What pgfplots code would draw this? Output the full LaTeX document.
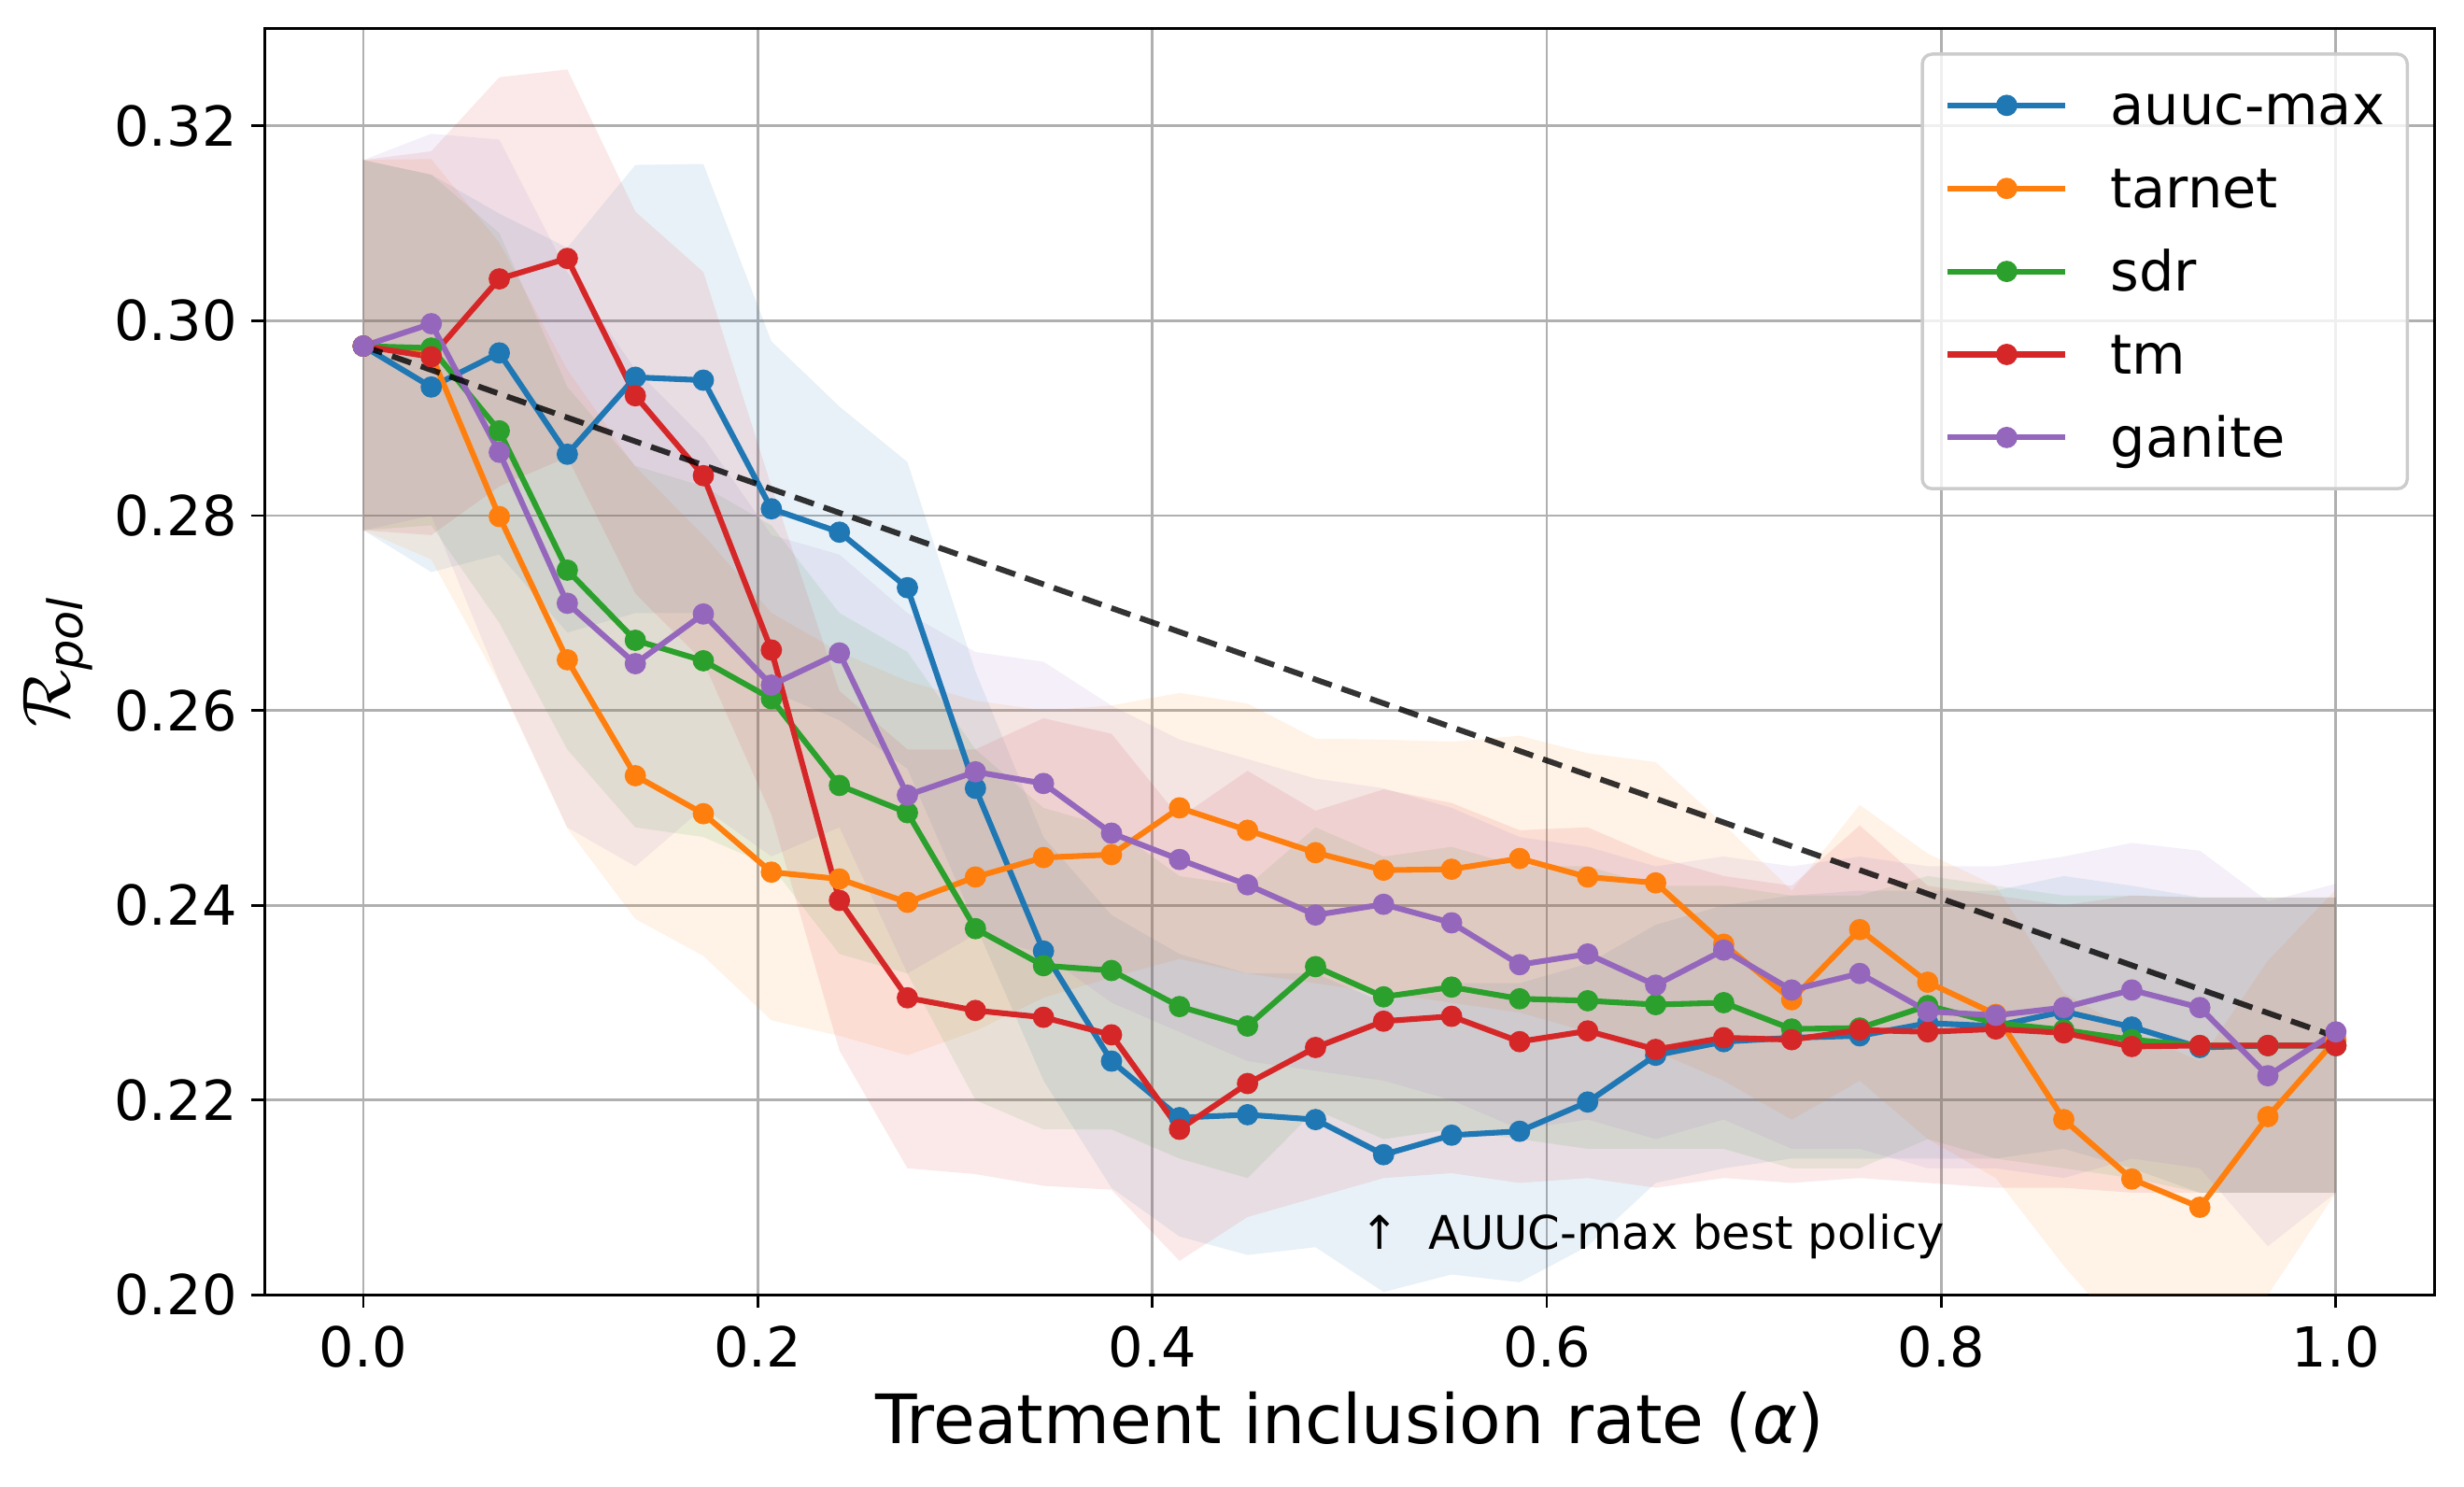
\documentclass[border=0pt]{standalone}
\usepackage{fontspec}
\setmainfont{DejaVu Sans}
\usepackage{amsmath}
\usepackage{pgfplots}
\usepackage{pgfplotstable}
\pgfplotsset{compat=1.18}
\usepgfplotslibrary{fillbetween}

\definecolor{cblue}{HTML}{1F77B4}
\definecolor{corange}{HTML}{FF7F0E}
\definecolor{cgreen}{HTML}{2CA02C}
\definecolor{cred}{HTML}{D62728}
\definecolor{cpurple}{HTML}{9467BD}
\definecolor{cgrid}{HTML}{B0B0B0}
\definecolor{clegend}{HTML}{CCCCCC}

\pgfplotstableread{
x m lo hi
0.000000 0.2974 0.2785 0.3165
0.034483 0.2932 0.2742 0.3150
0.068966 0.2967 0.2760 0.3110
0.103448 0.2863 0.2680 0.3075
0.137931 0.2942 0.2700 0.3160
0.172414 0.2939 0.2700 0.3161
0.206897 0.2807 0.2620 0.2979
0.241379 0.2783 0.2590 0.2912
0.275862 0.2726 0.2540 0.2855
0.310345 0.2520 0.2380 0.2640
0.344828 0.2353 0.2220 0.2470
0.379310 0.2240 0.2110 0.2390
0.413793 0.2182 0.2060 0.2350
0.448276 0.2185 0.2041 0.2330
0.482759 0.2180 0.2049 0.2330
0.517241 0.2144 0.2003 0.2300
0.551724 0.2164 0.2021 0.2320
0.586207 0.2168 0.2013 0.2320
0.620690 0.2198 0.2050 0.2340
0.655172 0.2246 0.2115 0.2380
0.689655 0.2260 0.2130 0.2400
0.724138 0.2264 0.2140 0.2410
0.758621 0.2266 0.2140 0.2415
0.793103 0.2279 0.2140 0.2415
0.827586 0.2276 0.2140 0.2415
0.862069 0.2291 0.2150 0.2430
0.896552 0.2275 0.2130 0.2420
0.931034 0.2254 0.2105 0.2408
0.965517 0.2256 0.2105 0.2408
1.000000 0.2256 0.2105 0.2408
}\tblauuc

\pgfplotstableread{
x m lo hi
0.000000 0.2974 0.2785 0.3165
0.034483 0.2965 0.2755 0.3166
0.068966 0.2799 0.2628 0.3080
0.103448 0.2652 0.2479 0.2950
0.137931 0.2533 0.2386 0.2850
0.172414 0.2494 0.2348 0.2780
0.206897 0.2434 0.2282 0.2700
0.241379 0.2427 0.2266 0.2660
0.275862 0.2403 0.2246 0.2630
0.310345 0.2429 0.2271 0.2610
0.344828 0.2449 0.2305 0.2600
0.379310 0.2452 0.2326 0.2605
0.413793 0.2500 0.2345 0.2618
0.448276 0.2477 0.2330 0.2607
0.482759 0.2454 0.2320 0.2571
0.517241 0.2436 0.2310 0.2570
0.551724 0.2437 0.2300 0.2568
0.586207 0.2448 0.2290 0.2574
0.620690 0.2429 0.2270 0.2556
0.655172 0.2423 0.2250 0.2547
0.689655 0.2360 0.2220 0.2483
0.724138 0.2303 0.2180 0.2415
0.758621 0.2375 0.2220 0.2503
0.793103 0.2321 0.2160 0.2453
0.827586 0.2288 0.2120 0.2420
0.862069 0.2180 0.2030 0.2310
0.896552 0.2119 0.1950 0.2270
0.931034 0.2090 0.1930 0.2240
0.965517 0.2183 0.2000 0.2343
1.000000 0.2262 0.2105 0.2416
}\tbltarnet

\pgfplotstableread{
x m lo hi
0.000000 0.2974 0.2785 0.3165
0.034483 0.2972 0.2790 0.3150
0.068966 0.2887 0.2690 0.3090
0.103448 0.2744 0.2560 0.2932
0.137931 0.2672 0.2480 0.2851
0.172414 0.2651 0.2470 0.2830
0.206897 0.2612 0.2440 0.2790
0.241379 0.2523 0.2350 0.2700
0.275862 0.2495 0.2330 0.2660
0.310345 0.2376 0.2200 0.2560
0.344828 0.2338 0.2170 0.2500
0.379310 0.2333 0.2170 0.2480
0.413793 0.2296 0.2140 0.2430
0.448276 0.2276 0.2120 0.2420
0.482759 0.2337 0.2190 0.2480
0.517241 0.2306 0.2160 0.2450
0.551724 0.2316 0.2170 0.2460
0.586207 0.2304 0.2160 0.2440
0.620690 0.2302 0.2150 0.2440
0.655172 0.2298 0.2150 0.2420
0.689655 0.2300 0.2150 0.2420
0.724138 0.2273 0.2130 0.2410
0.758621 0.2274 0.2130 0.2410
0.793103 0.2297 0.2160 0.2430
0.827586 0.2279 0.2140 0.2420
0.862069 0.2272 0.2130 0.2410
0.896552 0.2262 0.2120 0.2410
0.931034 0.2256 0.2105 0.2408
0.965517 0.2256 0.2105 0.2408
1.000000 0.2256 0.2105 0.2408
}\tblsdr

\pgfplotstableread{
x m lo hi
0.000000 0.2974 0.2785 0.3165
0.034483 0.2963 0.2780 0.3174
0.068966 0.3043 0.2830 0.3250
0.103448 0.3064 0.2860 0.3258
0.137931 0.2923 0.2720 0.3112
0.172414 0.2841 0.2650 0.3050
0.206897 0.2662 0.2493 0.2830
0.241379 0.2405 0.2251 0.2620
0.275862 0.2305 0.2130 0.2560
0.310345 0.2292 0.2124 0.2560
0.344828 0.2285 0.2112 0.2592
0.379310 0.2267 0.2108 0.2576
0.413793 0.2170 0.2035 0.2490
0.448276 0.2217 0.2080 0.2538
0.482759 0.2254 0.2100 0.2497
0.517241 0.2281 0.2120 0.2519
0.551724 0.2286 0.2125 0.2505
0.586207 0.2260 0.2115 0.2477
0.620690 0.2271 0.2120 0.2480
0.655172 0.2252 0.2110 0.2450
0.689655 0.2264 0.2120 0.2430
0.724138 0.2262 0.2115 0.2420
0.758621 0.2272 0.2120 0.2482
0.793103 0.2270 0.2115 0.2420
0.827586 0.2273 0.2110 0.2410
0.862069 0.2269 0.2110 0.2400
0.896552 0.2255 0.2105 0.2410
0.931034 0.2256 0.2105 0.2408
0.965517 0.2256 0.2105 0.2408
1.000000 0.2256 0.2105 0.2408
}\tbltm

\pgfplotstableread{
x m lo hi
0.000000 0.2974 0.2785 0.3165
0.034483 0.2997 0.2800 0.3192
0.068966 0.2865 0.2630 0.3186
0.103448 0.2710 0.2480 0.3050
0.137931 0.2648 0.2440 0.2950
0.172414 0.2699 0.2500 0.2880
0.206897 0.2626 0.2450 0.2780
0.241379 0.2659 0.2480 0.2760
0.275862 0.2513 0.2330 0.2700
0.310345 0.2537 0.2370 0.2660
0.344828 0.2525 0.2350 0.2650
0.379310 0.2474 0.2300 0.2605
0.413793 0.2447 0.2270 0.2570
0.448276 0.2421 0.2240 0.2550
0.482759 0.2390 0.2230 0.2530
0.517241 0.2401 0.2220 0.2520
0.551724 0.2382 0.2200 0.2500
0.586207 0.2339 0.2170 0.2470
0.620690 0.2350 0.2180 0.2460
0.655172 0.2318 0.2160 0.2440
0.689655 0.2354 0.2180 0.2450
0.724138 0.2313 0.2150 0.2440
0.758621 0.2330 0.2150 0.2450
0.793103 0.2291 0.2130 0.2440
0.827586 0.2287 0.2130 0.2440
0.862069 0.2295 0.2120 0.2450
0.896552 0.2313 0.2140 0.2464
0.931034 0.2295 0.2130 0.2456
0.965517 0.2225 0.2050 0.2404
1.000000 0.2270 0.2105 0.2422
}\tblganite

\begin{document}
\begin{tikzpicture}
\begin{axis}[
  scale only axis,
  width=669.1pt, height=390.5pt,
  xmin=-0.05, xmax=1.05, ymin=0.20, ymax=0.33,
  xtick={0,0.2,0.4,0.6,0.8,1.0},
  xticklabels={0.0,0.2,0.4,0.6,0.8,1.0},
  ytick={0.20,0.22,0.24,0.26,0.28,0.30,0.32},
  yticklabels={0.20,0.22,0.24,0.26,0.28,0.30,0.32},
  grid=major,
  major grid style={cgrid, line width=0.8pt},
  tick align=outside,
  major tick length=4pt,
  tick style={black, line width=0.8pt},
  xtick pos=bottom, ytick pos=left,
  axis line style={line width=0.8pt},
  ticklabel style={font=\fontsize{17}{20}\selectfont, inner sep=0pt},
  xticklabel style={anchor=north, yshift=-5.3pt},
  yticklabel style={anchor=east, xshift=-4.3pt},
  xlabel={Treatment inclusion rate (\textit{α})},
  ylabel={$\mathcal{R}_{\textit{pol}}$},
  label style={font=\fontsize{21}{25}\selectfont, inner sep=0pt},
  xlabel style={at={(axis description cs:0.5,-0.1170)}, anchor=base},
  ylabel style={at={(axis description cs:-0.0789,0.5)}, anchor=south},
  legend cell align=left,
  legend style={at={(axis description cs:1,1)}, anchor=north east,
    xshift=-7.9pt, yshift=-7.4pt,
    draw=clegend, line width=1pt, fill=white, fill opacity=0.8, text opacity=1,
    rounded corners=3pt, font=\fontsize{17}{20}\selectfont,
    inner xsep=7pt, inner ysep=7.8pt, row sep=9.6pt, column sep=13pt,
    nodes={inner sep=0pt, text height=14pt, text depth=2pt}},
  legend image code/.code={\draw[mark repeat=2,mark phase=2,#1,fill opacity=1,draw opacity=1] plot coordinates {(0pt,0pt) (18.15pt,0pt) (36.3pt,0pt)};},
]
% bands
\addplot[draw=none, name path=bhi, forget plot] table[x=x,y=hi]{\tblauuc};
\addplot[draw=none, name path=blo, forget plot] table[x=x,y=lo]{\tblauuc};
\addplot[fill=cblue, fill opacity=0.1, draw=none, forget plot] fill between[of=bhi and blo];
\addplot[draw=none, name path=ohi, forget plot] table[x=x,y=hi]{\tbltarnet};
\addplot[draw=none, name path=olo, forget plot] table[x=x,y=lo]{\tbltarnet};
\addplot[fill=corange, fill opacity=0.1, draw=none, forget plot] fill between[of=ohi and olo];
\addplot[draw=none, name path=ghi, forget plot] table[x=x,y=hi]{\tblsdr};
\addplot[draw=none, name path=glo, forget plot] table[x=x,y=lo]{\tblsdr};
\addplot[fill=cgreen, fill opacity=0.1, draw=none, forget plot] fill between[of=ghi and glo];
\addplot[draw=none, name path=rhi, forget plot] table[x=x,y=hi]{\tbltm};
\addplot[draw=none, name path=rlo, forget plot] table[x=x,y=lo]{\tbltm};
\addplot[fill=cred, fill opacity=0.1, draw=none, forget plot] fill between[of=rhi and rlo];
\addplot[draw=none, name path=phi, forget plot] table[x=x,y=hi]{\tblganite};
\addplot[draw=none, name path=plo, forget plot] table[x=x,y=lo]{\tblganite};
\addplot[fill=cpurple, fill opacity=0.1, draw=none, forget plot] fill between[of=phi and plo];
% lines
\addplot[cblue, line width=1.75pt, mark=*, mark size=2.4pt, mark options={solid}] table[x=x,y=m]{\tblauuc};
\addlegendentry{auuc-max}
\addplot[corange, line width=1.75pt, mark=*, mark size=2.4pt, mark options={solid}] table[x=x,y=m]{\tbltarnet};
\addlegendentry{tarnet}
\addplot[cgreen, line width=1.75pt, mark=*, mark size=2.4pt, mark options={solid}] table[x=x,y=m]{\tblsdr};
\addlegendentry{sdr}
\addplot[cred, line width=1.75pt, mark=*, mark size=2.4pt, mark options={solid}] table[x=x,y=m]{\tbltm};
\addlegendentry{tm}
\addplot[cpurple, line width=1.75pt, mark=*, mark size=2.4pt, mark options={solid}] table[x=x,y=m]{\tblganite};
\addlegendentry{ganite}
\addplot[black, opacity=0.8, line width=1.75pt, dash pattern=on 6.2pt off 3.2pt, forget plot] coordinates {(0,0.2974) (1,0.2265)};
\node[anchor=base west, inner sep=0pt, font=\fontsize{14.3}{16}\selectfont] at (axis cs:0.505,0.2047) {↑\ \ AUUC-max best policy};
\coordinate (bl) at (rel axis cs:0,0);
\coordinate (tr) at (rel axis cs:1,1);
\end{axis}
\pgfresetboundingbox
\path ([shift={(-81.6pt,-59.2pt)}]bl) rectangle ([shift={(9.1pt,8.8pt)}]tr);
\end{tikzpicture}
\end{document}
